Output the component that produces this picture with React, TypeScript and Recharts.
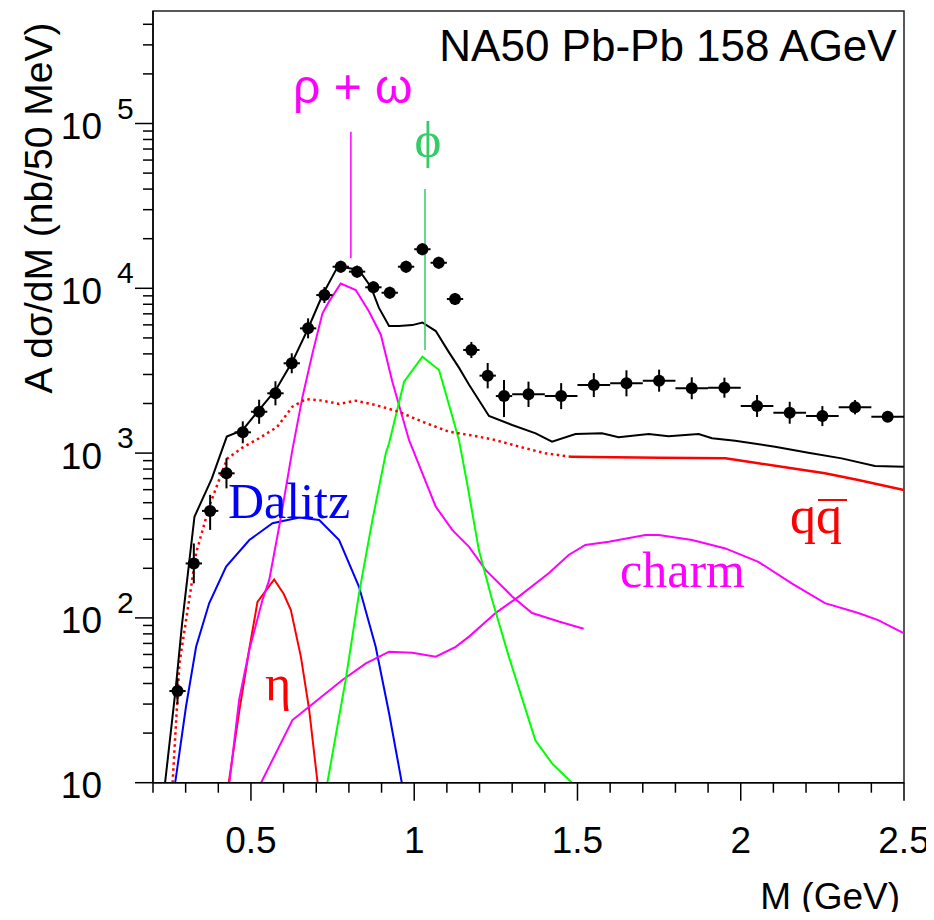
import React from 'react';
import { ComposedChart, Line, Scatter, ErrorBar, XAxis, YAxis, ReferenceArea } from 'recharts';

// ---- measured data points (NA50 Pb-Pb) ----
const dataM = [0.275,0.325,0.375,0.425,0.475,0.525,0.575,0.625,0.675,0.725,0.775,0.825,0.875,0.925,0.975,1.025,1.075,1.125,1.175,1.225,1.275,1.35,1.45,1.55,1.65,1.75,1.85,1.95,2.05,2.15,2.25,2.35,2.45];
const dataV = [36,214,446,754,1337,1782,2306,3507,5714,9100,13520,12620,10140,9400,13520,17260,14290,8610,4226,2951,2219,2275,2219,2588,2650,2749,2473,2494,1932,1758,1679,1898,1664];
const dataErrDown = [6,52,104,143,190,276,357,457,745,960,1080,1010,810,750,1080,1380,1140,690,450,480,564,370,370,400,440,390,350,325,275,250,220,180,110];
const dataErrUp = [7,69,112,176,222,326,422,526,857,1074,1180,1100,880,820,1180,1500,1240,750,500,570,557,440,440,470,530,460,410,375,320,290,250,200,120];
const dataErrM = [0.025,0.025,0.025,0.025,0.025,0.025,0.025,0.025,0.025,0.025,0.025,0.025,0.025,0.025,0.025,0.025,0.025,0.025,0.025,0.025,0.025,0.05,0.05,0.05,0.05,0.05,0.05,0.05,0.05,0.05,0.05,0.05,0.05];

// ---- total ----
const totalM = [0.237,0.27,0.289,0.327,0.38,0.426,0.474,0.525,0.576,0.627,0.673,0.719,0.76,0.775,0.806,0.831,0.867,0.892,0.923,0.953,0.994,1.025,1.066,1.106,1.137,1.168,1.229,1.3,1.372,1.422,1.494,1.575,1.626,1.718,1.779,1.83,1.871,1.912,1.983,2.105,2.207,2.309,2.411,2.5];
const totalV = [10,38,92,411,700,1260,1380,1830,2415,3590,5585,9100,12900,13500,13200,12900,10230,7600,5900,5900,5980,6200,5500,4100,3300,2600,1679,1480,1318,1172,1306,1320,1248,1306,1264,1289,1306,1230,1189,1094,1005,929,835,826];

// ---- q qbar (dotted below 1.48 GeV, solid above) ----
const qqDotM = [0.26,0.281,0.317,0.332,0.372,0.408,0.428,0.474,0.525,0.58,0.627,0.668,0.719,0.77,0.821,0.882,0.953,1.025,1.106,1.168,1.239,1.341,1.402,1.48];
const qqDotV = [10,53,155,247,473,736,929,1080,1230,1440,1915,2123,2081,1987,2081,1958,1782,1550,1349,1289,1213,1069,997,950];
const qqSolidM = [1.48,1.749,1.953,2.054,2.156,2.258,2.36,2.5];
const qqSolidV = [950,938,929,867,809,754,687,597];

// ---- rho + omega ----
const rhoM = [0.434,0.464,0.495,0.535,0.556,0.592,0.627,0.658,0.688,0.719,0.739,0.775,0.821,0.862,0.898,0.933,0.984,1.025,1.066,1.117,1.168,1.219,1.3,1.361,1.443,1.519];
const rhoV = [10,32,64,128,170,411,1050,2200,4000,7050,8300,10700,9770,7210,5210,2710,1202,754,473,341,270,195,135,107,95,86];

// ---- phi ----
const phiM = [0.734,0.79,0.831,0.872,0.913,0.923,0.969,1.025,1.076,1.117,1.137,1.162,1.198,1.239,1.29,1.371,1.422,1.483];
const phiV = [10,42,141,393,997,1148,2710,3846,3190,1664,1202,656,258,128,58,18.1,13.1,10];

// ---- Dalitz ----
const dalitzM = [0.268,0.301,0.332,0.372,0.424,0.495,0.566,0.648,0.709,0.77,0.831,0.882,0.923,0.962];
const dalitzV = [10,28.9,66.8,122.7,204.6,297,375,407,393,297,154.5,66.8,26.4,10];

// ---- eta ----
const etaM = [0.432,0.464,0.495,0.52,0.571,0.6,0.622,0.653,0.678,0.704];
const etaV = [10,27,65,125,171,140,112,58,28,10];

// ---- charm ----
const charmM = [0.531,0.627,0.678,0.78,0.852,0.923,0.994,1.066,1.127,1.168,1.249,1.32,1.412,1.473,1.524,1.596,1.708,1.749,1.851,1.953,2.054,2.156,2.258,2.36,2.421,2.5];
const charmV = [10,24,28.9,42,53,62.4,61.5,58.2,66.8,77,107,134.6,186.6,241,277,290,318,318,297,264,219,162,123,107,97,80.7];

// ---- annotation pointer lines ----
const rhoPointerM = [0.806, 0.806];
const rhoPointerV = [15200, 89000];
const phiPointerM = [1.033, 1.033];
const phiPointerV = [4230, 40100];

// ---- axes ----
const xDomain = [0.2, 2.5];
const yDomain = [10, 481600];
const xTicks = [0.2,0.3,0.4,0.5,0.6,0.7,0.8,0.9,1,1.1,1.2,1.3,1.4,1.5,1.6,1.7,1.8,1.9,2,2.1,2.2,2.3,2.4,2.5];
const xMajorTicks = [0.5, 1, 1.5, 2, 2.5];
const xTickLabels = ['0.5', '1', '1.5', '2', '2.5'];
const yTicks = [10,20,30,40,50,60,70,80,90,100,200,300,400,500,600,700,800,900,1000,2000,3000,4000,5000,6000,7000,8000,9000,10000,20000,30000,40000,50000,60000,70000,80000,90000,100000,200000,300000,400000];
const yMajorTicks = [10, 100, 1000, 10000, 100000];
const yTickExponents = ['', '2', '3', '4', '5'];

const zip = (ms: number[], vs: number[]) => ms.map((m, i) => ({ m, v: vs[i] }));

const points = dataM.map((m, i) => ({
  m,
  v: dataV[i],
  ey: [dataErrDown[i], dataErrUp[i]],
  ex: dataErrM[i],
}));

const SANS = '"Liberation Sans", Arial, Helvetica, sans-serif';
const SERIF = '"Liberation Serif", "Times New Roman", serif';

const YTick = (props: any) => {
  const { x, y, payload } = props;
  const idx = yMajorTicks.findIndex((t) => Math.abs(t - payload.value) < 1e-6 * t);
  const major = idx >= 0;
  return (
    <g>
      <line x1={x - (major ? 18 : 10)} x2={x} y1={y} y2={y} stroke="#000" strokeWidth={1.5} />
      {major && (
        <text x={x - 51} y={y + 15.5} textAnchor="end" fontSize={37} fontFamily={SANS} fill="#000">10</text>
      )}
      {major && yTickExponents[idx] !== '' && (
        <text x={x - 36} y={y - 5} textAnchor="start" fontSize={30} fontFamily={SANS} fill="#000">{yTickExponents[idx]}</text>
      )}
    </g>
  );
};

const XTick = (props: any) => {
  const { x, y, payload } = props;
  const idx = xMajorTicks.findIndex((t) => Math.abs(t - payload.value) < 1e-6);
  const major = idx >= 0;
  return (
    <g>
      <line x1={x} x2={x} y1={y} y2={y + (major ? 18 : 10)} stroke="#000" strokeWidth={1.5} />
      {major && (
        <text x={x} y={y + 70.5} textAnchor="middle" fontSize={37} fontFamily={SANS} fill="#000">{xTickLabels[idx]}</text>
      )}
    </g>
  );
};

const Dot = (props: any) => <circle cx={props.cx} cy={props.cy} r={6} fill="#000" />;

export default function App() {
  const W = 918;
  const H = 904;
  return (
    <div style={{ position: 'relative', width: W, height: H }}>
      <ComposedChart width={W} height={H} margin={{ top: 3, right: 22, bottom: 0, left: 0 }}>
        <XAxis
          dataKey="m"
          type="number"
          domain={xDomain}
          allowDataOverflow
          ticks={xTicks}
          interval={0}
          tickSize={0}
          tickMargin={0}
          tickLine={false}
          height={129.3}
          axisLine={{ stroke: '#000', strokeWidth: 1.5 }}
          tick={(p: any) => <XTick {...p} />}
        />
        <YAxis
          dataKey="v"
          type="number"
          scale="log"
          domain={yDomain}
          allowDataOverflow
          ticks={yTicks}
          interval={0}
          tickSize={0}
          tickMargin={0}
          tickLine={false}
          width={145}
          axisLine={{ stroke: '#000', strokeWidth: 1.5 }}
          tick={(p: any) => <YTick {...p} />}
        />
        <ReferenceArea x1={xDomain[0]} x2={xDomain[1]} y1={yDomain[0]} y2={yDomain[1]} fill="none" fillOpacity={0} stroke="#222" strokeWidth={1.5} ifOverflow="visible" />
        <Line data={zip(dalitzM, dalitzV)} dataKey="v" stroke="#0000ff" strokeWidth={2} dot={false} isAnimationActive={false} />
        <Line data={zip(etaM, etaV)} dataKey="v" stroke="#ff0000" strokeWidth={2} dot={false} isAnimationActive={false} />
        <Line data={zip(charmM, charmV)} dataKey="v" stroke="#ff00ff" strokeWidth={2} dot={false} isAnimationActive={false} />
        <Line data={zip(rhoM, rhoV)} dataKey="v" stroke="#ff00ff" strokeWidth={2} dot={false} isAnimationActive={false} />
        <Line data={zip(phiM, phiV)} dataKey="v" stroke="#00ff00" strokeWidth={2} dot={false} isAnimationActive={false} />
        <Line data={zip(qqDotM, qqDotV)} dataKey="v" stroke="#ff0000" strokeWidth={2.5} strokeDasharray="2.5 3.5" dot={false} isAnimationActive={false} />
        <Line data={zip(qqSolidM, qqSolidV)} dataKey="v" stroke="#ff0000" strokeWidth={2.5} dot={false} isAnimationActive={false} />
        <Line data={zip(totalM, totalV)} dataKey="v" stroke="#000" strokeWidth={2} dot={false} isAnimationActive={false} />
        <Line data={zip(rhoPointerM, rhoPointerV)} dataKey="v" stroke="#ff00ff" strokeWidth={1.5} dot={false} isAnimationActive={false} />
        <Line data={zip(phiPointerM, phiPointerV)} dataKey="v" stroke="#33cc66" strokeWidth={1.5} dot={false} isAnimationActive={false} />
        <Scatter data={points} dataKey="v" shape={(p: any) => <Dot {...p} />} isAnimationActive={false}>
          <ErrorBar dataKey="ey" direction="y" width={0} stroke="#000" strokeWidth={2} />
          <ErrorBar dataKey="ex" direction="x" width={0} stroke="#000" strokeWidth={2} />
        </Scatter>
      </ComposedChart>
      <svg width={W} height={H} style={{ position: 'absolute', left: 0, top: 0, overflow: 'visible', pointerEvents: 'none' }}>
        <text x={888.7} y={53} textAnchor="end" fontSize={44} fontFamily={SANS} fill="#000">NA50 Pb-Pb 158 AGeV</text>
        <text x={892} y={901} textAnchor="end" fontSize={37} fontFamily={SANS} fill="#000">M (GeV)</text>
        <text transform="translate(44,200) rotate(-90)" textAnchor="middle" fontSize={39} fontFamily={SANS} fill="#000">A dσ/dM (nb/50 MeV)</text>
        <text x={285} y={95} fontSize={48} fontFamily={SANS} fill="#ff00ff">ρ + ω</text>
        <text x={420} y={149} textAnchor="middle" fontSize={51} fontFamily={SERIF} fill="#33cc66">ϕ</text>
        <text x={220} y={510} fontSize={50} fontFamily={SERIF} fill="#0000ff">Dalitz</text>
        <text x={257} y={692} fontSize={50} fontFamily={SERIF} fill="#ff0000">η</text>
        <text x={612} y={579} fontSize={50} fontFamily={SERIF} fill="#ff00ff">charm</text>
        <text x={782} y={525} fontSize={52} fontFamily={SERIF} fill="#ff0000">qq</text>
        <line x1={810} x2={839} y1={492} y2={492} stroke="#ff0000" strokeWidth={2} />
      </svg>
    </div>
  );
}
